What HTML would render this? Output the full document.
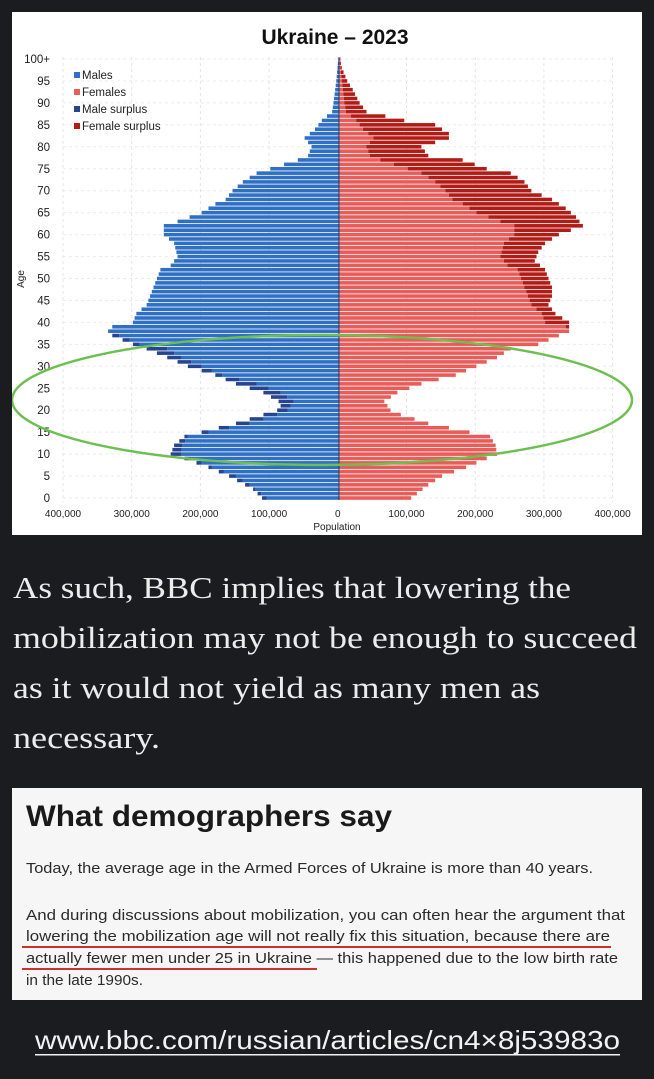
<!DOCTYPE html>
<html><head><meta charset="utf-8"><style>
body{margin:0;background:#1b1c20;width:654px;height:1079px;overflow:hidden;position:relative;font-family:"Liberation Sans",sans-serif}
#chart{position:absolute;left:12px;top:12px;width:630px;height:523px;background:#fff}
#txt{position:absolute;left:0;top:0}
</style></head><body>
<svg id="chart" width="630" height="523" viewBox="12 12 630 523" xmlns="http://www.w3.org/2000/svg"></svg>
<svg id="txt" width="654" height="1079" viewBox="0 0 654 1079" xmlns="http://www.w3.org/2000/svg">
<g font-family="Liberation Serif, serif" font-size="31" fill="#ececec" lengthAdjust="spacingAndGlyphs">
<text x="13" y="598" textLength="558" lengthAdjust="spacingAndGlyphs">As such, BBC implies that lowering the</text>
<text x="13" y="648" textLength="624" lengthAdjust="spacingAndGlyphs">mobilization may not be enough to succeed</text>
<text x="13" y="698" textLength="527" lengthAdjust="spacingAndGlyphs">as it would not yield as many men as</text>
<text x="13" y="748" textLength="147" lengthAdjust="spacingAndGlyphs">necessary.</text>
</g>
<rect x="12" y="788" width="630" height="212" fill="#f6f6f6"/>
<text x="26" y="826" font-size="30" font-weight="bold" fill="#1a1a1a" textLength="366" lengthAdjust="spacingAndGlyphs">What demographers say</text>
<g font-size="14.5" fill="#2a2a2a">
<text x="26" y="873" textLength="567" lengthAdjust="spacingAndGlyphs">Today, the average age in the Armed Forces of Ukraine is more than 40 years.</text>
<text x="26" y="920" textLength="599" lengthAdjust="spacingAndGlyphs">And during discussions about mobilization, you can often hear the argument that</text>
<text x="26" y="941" textLength="584" lengthAdjust="spacingAndGlyphs">lowering the mobilization age will not really fix this situation, because there are</text>
<text x="26" y="963" textLength="592" lengthAdjust="spacingAndGlyphs">actually fewer men under 25 in Ukraine — this happened due to the low birth rate</text>
<text x="26" y="985" textLength="117" lengthAdjust="spacingAndGlyphs">in the late 1990s.</text>
</g>
<rect x="22" y="946" width="589" height="2" fill="#c8322f"/>
<rect x="22" y="968" width="295" height="2" fill="#c8322f"/>
<text x="35" y="1049" font-size="26" fill="#f2f2f2" textLength="585" lengthAdjust="spacingAndGlyphs">www.bbc.com/russian/articles/cn4×8j53983o</text>
<rect x="35" y="1054" width="585" height="1.5" fill="#f2f2f2"/>
</svg>
<script>
var M=[[0,112],[2,125],[5,160],[7,190],[9,225],[10,245],[12,240],[14,225],[15,200],[17,150],[19,110],[20,90],[21,85],[22,88],[24,110],[26,150],[28,180],[30,220],[32,250],[34,280],[35,300],[37,330],[38,336],[39,330],[40,300],[42,295],[44,280],[46,275],[48,270],[50,265],[52,260],[53,245],[55,235],[58,240],[60,255],[62,255],[63,235],[65,200],[67,180],[68,165],[70,155],[72,140],[74,120],[75,100],[77,60],[78,45],[80,40],[82,50],[84,35],[86,25],[88,10],[90,8],[95,4],[100,1]];
var F=[[0,105],[3,130],[5,150],[7,185],[9,215],[10,230],[12,228],[14,220],[15,190],[17,130],[19,90],[20,75],[22,66],[24,85],[26,120],[28,170],[30,200],[32,230],[34,250],[35,290],[37,320],[38,335],[40,335],[42,315],[44,305],[46,310],[48,310],[50,305],[52,300],[54,285],[56,290],[58,300],[60,320],[62,355],[64,345],[66,330],[68,310],[70,280],[72,270],[74,250],[75,215],[77,180],[78,130],[80,120],[82,160],[83,160],[85,140],[86,95],[88,40],[90,30],[93,20],[95,12],[98,4],[100,2]];
function f(t,a){for(var i=0;i<t.length-1;i++){if(a<=t[i+1][0]){var r=(a-t[i][0])/(t[i+1][0]-t[i][0]);return t[i][1]+r*(t[i+1][1]-t[i][1]);}}return t[t.length-1][1];}
var cx=339,k=0.687,y0=498,s=4.39,h='';
for(var x=0;x<=8;x++){var gx=63+x*68.7;h+='<line x1="'+gx+'" y1="57" x2="'+gx+'" y2="502" stroke="#e4e4e4" stroke-dasharray="3,3"/>';}
for(var a=0;a<=100;a+=5){var gy=y0-a*s;h+='<line x1="63" y1="'+gy+'" x2="615" y2="'+gy+'" stroke="#ebebeb" stroke-dasharray="3,3"/>';
h+='<text x="50" y="'+(gy+4)+'" font-size="11.5" text-anchor="end" fill="#222">'+(a==100?'100+':a)+'</text>';}
for(var a=0;a<=100;a++){var m=f(M,a)*k,w=f(F,a)*k,mn=Math.min(m,w),y=y0-a*s-s/2+0.4,hh=s-0.8;
h+='<rect x="'+(cx-mn)+'" y="'+y+'" width="'+mn+'" height="'+hh+'" fill="#2f6fc4"/>';
if(m>mn)h+='<rect x="'+(cx-m)+'" y="'+y+'" width="'+(m-mn)+'" height="'+hh+'" fill="#26448f"/>';
h+='<rect x="'+cx+'" y="'+y+'" width="'+mn+'" height="'+hh+'" fill="#e85c5a"/>';
if(w>mn)h+='<rect x="'+(cx+mn)+'" y="'+y+'" width="'+(w-mn)+'" height="'+hh+'" fill="#b21c17"/>';}
h+='<line x1="339" y1="58" x2="339" y2="500" stroke="#1e3a6e" stroke-width="1"/>';
var lb=['400,000','300,000','200,000','100,000','0','100,000','200,000','300,000','400,000'];
for(var x=0;x<=8;x++)h+='<text x="'+(63+x*68.7)+'" y="517" font-size="10" text-anchor="middle" fill="#222">'+lb[x]+'</text>';
h+='<text x="337" y="530" font-size="10" text-anchor="middle" fill="#222">Population</text>';
h+='<text transform="translate(24,279) rotate(-90)" font-size="10" text-anchor="middle" fill="#222">Age</text>';
h+='<text x="335" y="44" font-size="21" font-weight="bold" text-anchor="middle" fill="#111">Ukraine – 2023</text>';
var L=[['Males','#2f6fc4'],['Females','#e85c5a'],['Male surplus','#26448f'],['Female surplus','#b21c17']];
for(var i=0;i<4;i++){var ly=76+i*17;h+='<rect x="74" y="'+(ly-4)+'" width="6" height="6" fill="'+L[i][1]+'"/><text x="82" y="'+(ly+3)+'" font-size="11.5" fill="#222">'+L[i][0]+'</text>';}
h+='<ellipse cx="322" cy="400" rx="310" ry="65" fill="none" stroke="#6cc050" stroke-width="2.5"/>';
document.getElementById('chart').innerHTML=h;
</script>
</body></html>
